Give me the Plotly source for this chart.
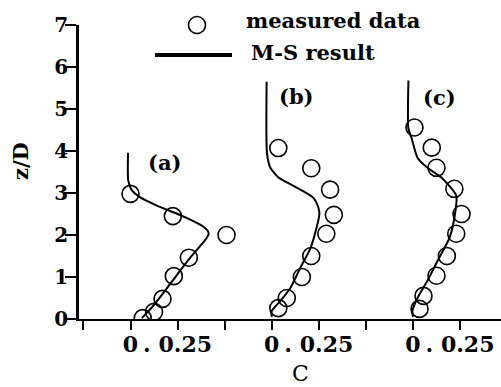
import plotly.graph_objects as go

# ---- data (C values, z/D) ----
panel_names = ["(a)", "(b)", "(c)"]
panel_offsets = [0.0, 0.75, 1.5]

meas_a_C = [0.0, 0.225, 0.51, 0.31, 0.23, 0.17, 0.125, 0.065]
meas_a_z = [2.98, 2.45, 2.0, 1.46, 1.02, 0.48, 0.17, 0.02]
meas_b_C = [0.035, 0.21, 0.31, 0.33, 0.29, 0.21, 0.16, 0.08, 0.035]
meas_b_z = [4.07, 3.59, 3.08, 2.48, 2.03, 1.5, 1.0, 0.5, 0.26]
meas_c_C = [0.008, 0.10, 0.125, 0.22, 0.258, 0.23, 0.18, 0.125, 0.056, 0.035]
meas_c_z = [4.56, 4.08, 3.6, 3.1, 2.5, 2.03, 1.5, 1.03, 0.55, 0.24]

ms_a_C = [-0.013, -0.012, 0.005, 0.05, 0.14, 0.25, 0.32, 0.38, 0.41, 0.415, 0.40, 0.38, 0.315, 0.25, 0.185, 0.12, 0.06]
ms_a_z = [3.96, 3.3, 3.08, 2.9, 2.7, 2.5, 2.36, 2.22, 2.1, 2.02, 1.9, 1.79, 1.45, 1.07, 0.68, 0.31, 0.02]
ms_b_C = [-0.027, -0.025, -0.007, 0.036, 0.115, 0.22, 0.248, 0.253, 0.238, 0.206, 0.152, 0.099, 0.046, 0.0, 0.0]
ms_b_z = [5.65, 3.94, 3.6, 3.37, 3.17, 2.89, 2.65, 2.5, 2.17, 1.69, 1.22, 0.74, 0.43, 0.19, 0.05]
ms_c_C = [-0.024, -0.024, -0.008, 0.024, 0.077, 0.151, 0.23, 0.22, 0.194, 0.13, 0.077, 0.024, -0.003, 0.0]
ms_c_z = [5.68, 4.53, 4.32, 3.84, 3.6, 3.37, 2.94, 2.41, 1.93, 1.38, 0.91, 0.5, 0.19, 0.05]

label_pos_C = [0.183, 0.13, 0.14]
label_pos_z = [3.72, 5.3, 5.27]

y_tickvals = [0, 1, 2, 3, 4, 5, 6, 7]
y_ticktext = ["0", "1", "2", "3", "4", "5", "6", "7"]
x_local_ticks = [-0.25, 0.0, 0.25]
x_local_text = ["", "0", ". 0.25"]

legend_meas = "measured data"
legend_ms = "M-S result"
x_title = "C"
y_title = "z/D"

FONT = "DejaVu Serif"

meas = [(meas_a_C, meas_a_z), (meas_b_C, meas_b_z), (meas_c_C, meas_c_z)]
ms = [(ms_a_C, ms_a_z), (ms_b_C, ms_b_z), (ms_c_C, ms_c_z)]

fig = go.Figure()
for (mc, mz), (lc, lz), off in zip(meas, ms, panel_offsets):
    fig.add_trace(go.Scatter(
        x=[c + off for c in lc], y=lz, mode="lines",
        line=dict(color="black", width=2, shape="spline", smoothing=0.6),
        showlegend=False, hoverinfo="skip"))
    fig.add_trace(go.Scatter(
        x=[c + off for c in mc], y=mz, mode="markers",
        marker=dict(symbol="circle-open", size=17, color="black",
                    line=dict(width=1.6, color="black")),
        showlegend=False, hoverinfo="skip"))

for name, c, z, off in zip(panel_names, label_pos_C, label_pos_z, panel_offsets):
    fig.add_annotation(x=c + off, y=z, text=name, showarrow=False,
                       xanchor="center", yanchor="middle",
                       font=dict(family=FONT, size=21, color="black", weight="bold"))

# x ticks repeated per panel
tickvals, ticktext = [], []
for off in panel_offsets:
    for v, t in zip(x_local_ticks, x_local_text):
        tickvals.append(v + off)
        ticktext.append(t)

W, H = 501, 387
L, R, T, B = 79, 0, 25, 68
a0_px, px_per_unit = 130.5, 188.3
x_lo = 0 - (a0_px - L) / px_per_unit
x_hi = (W - a0_px) / px_per_unit

fig.update_layout(
    width=W, height=H,
    margin=dict(l=L, r=R, t=T, b=B),
    paper_bgcolor="white", plot_bgcolor="white",
    showlegend=False,
    xaxis=dict(range=[x_lo, x_hi], tickvals=tickvals, ticktext=ticktext,
               showgrid=False, zeroline=False, showline=True, linecolor="black",
               linewidth=2, ticks="outside", ticklen=9, tickwidth=2, tickcolor="black",
               ticklabelstandoff=-4,
               tickfont=dict(family=FONT, size=22, color="black", weight="bold")),
    yaxis=dict(range=[0, 7], tickvals=y_tickvals, ticktext=y_ticktext,
               showgrid=False, zeroline=False, showline=True, linecolor="black",
               linewidth=2.5, ticks="outside", ticklen=11, tickwidth=2, tickcolor="black",
               ticklabelstandoff=-7,
               tickfont=dict(family=FONT, size=20, color="black", weight="bold")),
)

def px_x(p):
    return (p - L) / (W - L - R)

def px_y(p):
    return (H - B - p) / (H - T - B)

# axis titles
fig.add_annotation(xref="paper", yref="paper", x=px_x(20), y=px_y(161), text=y_title,
                   textangle=-90, showarrow=False, xanchor="center", yanchor="middle",
                   font=dict(family=FONT, size=21, color="black", weight="bold"))
fig.add_annotation(xref="paper", yref="paper", x=px_x(300), y=px_y(373), text=x_title,
                   showarrow=False, xanchor="center", yanchor="middle",
                   font=dict(family=FONT, size=22, color="black"))

# custom legend
fig.add_shape(type="circle", xref="paper", yref="paper", xsizemode="pixel", ysizemode="pixel",
              xanchor=px_x(197), yanchor=px_y(25), x0=-8.5, x1=8.5, y0=-8.5, y1=8.5,
              line=dict(color="black", width=1.6))
fig.add_shape(type="line", xref="paper", yref="paper", x0=px_x(155), x1=px_x(232),
              y0=px_y(55), y1=px_y(55), line=dict(color="black", width=4))
fig.add_annotation(xref="paper", yref="paper", x=px_x(244), y=px_y(20), text=legend_meas,
                   xanchor="left", yanchor="middle", showarrow=False,
                   font=dict(family=FONT, size=21, color="black", weight="bold"))
fig.add_annotation(xref="paper", yref="paper", x=px_x(249), y=px_y(52), text=legend_ms,
                   xanchor="left", yanchor="middle", showarrow=False,
                   font=dict(family=FONT, size=21, color="black", weight="bold"))

fig.write_html("out.html")
